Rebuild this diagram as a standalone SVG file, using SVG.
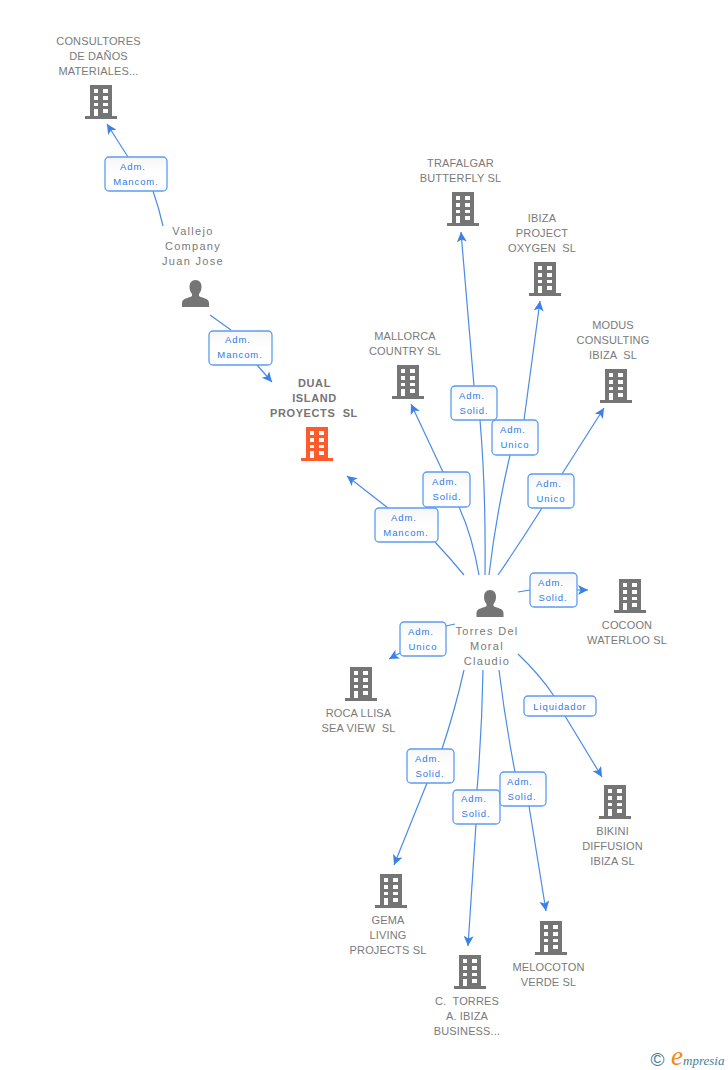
<svg xmlns="http://www.w3.org/2000/svg" width="728" height="1070" viewBox="0 0 728 1070">
<style>
text{font-family:"Liberation Sans",Arial,sans-serif}
.n{font-size:11px;fill:#7a7a7a;text-anchor:middle;letter-spacing:.15px;white-space:pre}
.p{letter-spacing:1.3px}
.b{font-weight:bold;fill:#757575;letter-spacing:.6px}
.l{font-size:9.5px;fill:#2f7ae5;text-anchor:middle;letter-spacing:.9px}
.c{fill:none;stroke:#4a8be8;stroke-width:1.2}
.box{fill:url(#bg);stroke:#5c9cf0;stroke-width:1.3}
</style>
<defs>
<linearGradient id="bg" x1="0" y1="0" x2="0" y2="1"><stop offset="0" stop-color="#f6f6f6"/><stop offset=".5" stop-color="#fff"/></linearGradient>
<marker id="a" markerUnits="userSpaceOnUse" markerWidth="12" markerHeight="12" refX="10" refY="5" orient="auto"><path d="M0 0L10 5L0 10L2.500 5Z" fill="#3c82e6"/></marker>
<path id="bld" fill-rule="evenodd" d="M-11-17H11V14H16V17H-16V14H-11ZM-7-13V-9H-3V-13ZM2-13V-9H7V-13ZM-7-6V-2H-3V-6ZM2-6V-2H7V-6ZM-7 1V4H-3V1ZM2 1V4H7V1ZM-7 7V14H-3V7ZM2 7V11H7V7Z"/>
<path id="per" d="M0-14C4-14 6-11 6-7C6-4 5-2 3.500 0V2C6 4 13.500 4 13.500 9V13H-13.500V9C-13.500 4-6 4-3.500 2V0C-5-2-6-4-6-7C-6-11-4-14 0-14Z" fill="#757575"/>
</defs>
<g id="connectors">
<path class="c" d="M163 226Q159 208 153 191"/><path class="c" marker-end="url(#a)" d="M128 157L107 124"/>
<path class="c" d="M210 315L231 330"/><path class="c" marker-end="url(#a)" d="M257 365L272 382"/>
<path class="c" d="M464 575Q450 558 435 542"/><path class="c" marker-end="url(#a)" d="M388 508L347 476"/>
<path class="c" d="M479 575Q472 535 459 507"/><path class="c" marker-end="url(#a)" d="M443 472L411 404"/>
<path class="c" d="M485 575Q486 490 480 420"/><path class="c" marker-end="url(#a)" d="M474 386L461 232"/>
<path class="c" d="M489 575Q496 515 510 455"/><path class="c" marker-end="url(#a)" d="M524 420L540 301"/>
<path class="c" d="M498 575Q522 540 542 508"/><path class="c" marker-end="url(#a)" d="M562 474L604 408"/>
<path class="c" d="M518 592L530 590"/><path class="c" marker-end="url(#a)" d="M577 590L588 590"/>
<path class="c" d="M455 624L446 626"/><path class="c" marker-end="url(#a)" d="M400 653L389 659"/>
<path class="c" d="M518 654Q540 675 554 696"/><path class="c" marker-end="url(#a)" d="M565 716L602 777"/>
<path class="c" d="M464 670Q455 710 442 749"/><path class="c" marker-end="url(#a)" d="M427 783L394 865"/>
<path class="c" d="M483 670Q482 730 477 790"/><path class="c" marker-end="url(#a)" d="M476 824L468 946"/>
<path class="c" d="M499 670Q505 720 515 772"/><path class="c" marker-end="url(#a)" d="M529 806L546 911"/>
</g>
<g id="labels">
<g><rect class="box" x="105" y="157" width="62" height="34" rx="4"/><text class="l" x="133" y="170">Adm.</text><text class="l" x="136" y="185">Mancom.</text></g>
<g><rect class="box" x="209" y="331" width="63" height="34" rx="4"/><text class="l" x="238" y="343">Adm.</text><text class="l" x="240" y="358">Mancom.</text></g>
<g><rect class="box" x="375" y="508" width="63" height="34" rx="4"/><text class="l" x="404" y="521">Adm.</text><text class="l" x="406" y="536">Mancom.</text></g>
<g><rect class="box" x="423" y="472" width="47" height="35" rx="4"/><text class="l" x="445" y="485">Adm.</text><text class="l" x="447" y="500">Solid.</text></g>
<g><rect class="box" x="451" y="386" width="46" height="34" rx="4"/><text class="l" x="472" y="399">Adm.</text><text class="l" x="474" y="414">Solid.</text></g>
<g><rect class="box" x="492" y="420" width="46" height="35" rx="4"/><text class="l" x="513" y="433">Adm.</text><text class="l" x="515" y="448">Unico</text></g>
<g><rect class="box" x="528" y="474" width="46" height="34" rx="4"/><text class="l" x="549" y="487">Adm.</text><text class="l" x="551" y="502">Unico</text></g>
<g><rect class="box" x="530" y="573" width="47" height="34" rx="4"/><text class="l" x="551" y="586">Adm.</text><text class="l" x="553" y="601">Solid.</text></g>
<g><rect class="box" x="400" y="622" width="46" height="34" rx="4"/><text class="l" x="421" y="635">Adm.</text><text class="l" x="423" y="650">Unico</text></g>
<g><rect class="box" x="524" y="696" width="72" height="20" rx="4"/><text class="l" x="560" y="710">Liquidador</text></g>
<g><rect class="box" x="407" y="749" width="47" height="34" rx="4"/><text class="l" x="428" y="762">Adm.</text><text class="l" x="430" y="777">Solid.</text></g>
<g><rect class="box" x="453" y="790" width="47" height="34" rx="4"/><text class="l" x="474" y="802">Adm.</text><text class="l" x="476" y="817">Solid.</text></g>
<g><rect class="box" x="500" y="772" width="46" height="34" rx="4"/><text class="l" x="520" y="785">Adm.</text><text class="l" x="522" y="800">Solid.</text></g>
</g>
<g id="n1"><text class="n" x="98.500" y="45">CONSULTORES</text><text class="n" x="98.500" y="60">DE DAÑOS</text><text class="n" x="98.500" y="75">MATERIALES...</text><use href="#bld" x="101" y="102" fill="#757575"/></g>
<g id="n2"><text class="n p" x="193" y="235">Vallejo</text><text class="n p" x="193" y="250">Company</text><text class="n p" x="193" y="265">Juan Jose</text><use href="#per" x="195.500" y="294"/></g>
<g id="n3"><text class="n b" x="314.500" y="387">DUAL</text><text class="n b" x="314.500" y="402">ISLAND</text><text class="n b" x="314" y="417">PROYECTS  SL</text><use href="#bld" x="317" y="444" fill="#ff5a2c"/></g>
<g id="n4"><text class="n" x="405" y="340">MALLORCA</text><text class="n" x="405" y="355">COUNTRY SL</text><use href="#bld" x="408" y="382" fill="#757575"/></g>
<g id="n5"><text class="n" x="460.500" y="167">TRAFALGAR</text><text class="n" x="460.500" y="182">BUTTERFLY SL</text><use href="#bld" x="463" y="209" fill="#757575"/></g>
<g id="n6"><text class="n" x="542" y="222">IBIZA</text><text class="n" x="542" y="237">PROJECT</text><text class="n" x="542" y="252">OXYGEN  SL</text><use href="#bld" x="545" y="279" fill="#757575"/></g>
<g id="n7"><text class="n" x="613" y="329">MODUS</text><text class="n" x="613" y="344">CONSULTING</text><text class="n" x="613" y="359">IBIZA  SL</text><use href="#bld" x="616" y="386" fill="#757575"/></g>
<g id="n8"><use href="#per" x="490" y="604"/><text class="n p" x="487" y="635">Torres Del</text><text class="n p" x="487" y="650">Moral</text><text class="n p" x="487" y="665">Claudio</text></g>
<g id="n9"><use href="#bld" x="630" y="596" fill="#757575"/><text class="n" x="627" y="629">COCOON</text><text class="n" x="627" y="644">WATERLOO SL</text></g>
<g id="n10"><use href="#bld" x="361" y="684" fill="#757575"/><text class="n" x="358.500" y="717">ROCA LLISA</text><text class="n" x="358.500" y="732">SEA VIEW  SL</text></g>
<g id="n11"><use href="#bld" x="615" y="802" fill="#757575"/><text class="n" x="612.500" y="835">BIKINI</text><text class="n" x="612.500" y="850">DIFFUSION</text><text class="n" x="612.500" y="865">IBIZA SL</text></g>
<g id="n12"><use href="#bld" x="391" y="891" fill="#757575"/><text class="n" x="388" y="924">GEMA</text><text class="n" x="388" y="939">LIVING</text><text class="n" x="388" y="954">PROJECTS SL</text></g>
<g id="n13"><use href="#bld" x="551" y="938" fill="#757575"/><text class="n" x="548.500" y="971">MELOCOTON</text><text class="n" x="548.500" y="986">VERDE SL</text></g>
<g id="n14"><use href="#bld" x="470" y="972" fill="#757575"/><text class="n" x="467" y="1005">C.  TORRES</text><text class="n" x="467" y="1020">A. IBIZA</text><text class="n" x="467" y="1035">BUSINESS...</text></g>
<g id="logo"><text x="650.500" y="1066" style="font-size:19px;fill:#3f7f95">©</text><text x="671" y="1065" style="font-family:'Liberation Serif',serif;font-style:italic;font-size:27px;fill:#f08a1d">e</text><text x="683" y="1065" style="font-family:'Liberation Serif',serif;font-style:italic;font-size:13px;fill:#3f7f95">mpresia</text></g>
</svg>
